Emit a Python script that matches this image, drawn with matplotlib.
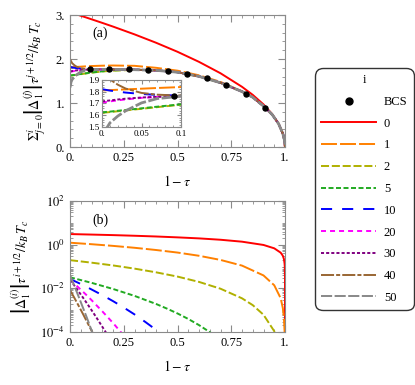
import numpy as np
import matplotlib
matplotlib.use("Agg")
import matplotlib.pyplot as plt
from matplotlib.lines import Line2D
from matplotlib.ticker import MultipleLocator, FixedLocator, FixedFormatter, LogLocator, NullFormatter

plt.rcParams['font.family'] = ['Liberation Serif', 'DejaVu Serif']
plt.rcParams['mathtext.fontset'] = 'stix'
plt.rcParams['lines.scale_dashes'] = False

# ---- data: panel (a), partial sums vs 1 - tau ----
x_top = [0, 0.005, 0.01, 0.02, 0.03, 0.05, 0.07, 0.1, 0.15, 0.2, 0.3, 0.4, 0.5,
         0.6, 0.7, 0.8, 0.85, 0.9, 0.94, 0.97, 0.99, 0.997, 1.0]
tail = [1.757, 1.742, 1.70, 1.605, 1.46, 1.26, 1.13, 0.93, 0.74, 0.53, 0.305, 0.167, 0]
sum_0 = [3.06, 3.052, 3.045, 3.029, 3.014, 2.983, 2.952, 2.903, 2.821, 2.737, 2.56, 2.37, 2.164,
         1.935, 1.676, 1.368, 1.185, 0.968, 0.75, 0.53, 0.306, 0.168, 0]
sum_1 = [1.812, 1.813, 1.814, 1.817, 1.82, 1.826, 1.832, 1.84, 1.848, 1.852, 1.845, 1.80, 1.735,
         1.63, 1.48, 1.265, 1.13, 0.935, 0.74, 0.53, 0.305, 0.167, 0]
sum_2 = [1.62, 1.624, 1.627, 1.634, 1.641, 1.655, 1.669, 1.69, 1.716, 1.735] + [1.752, 1.742] + tail[2:]
sum_5 = [1.624, 1.628, 1.631, 1.638, 1.645, 1.659, 1.673, 1.693, 1.72, 1.742] + tail
sum_10 = [1.822, 1.816, 1.81, 1.801, 1.793, 1.781, 1.773, 1.767, 1.765, 1.764] + tail
sum_20 = [1.708, 1.713, 1.718, 1.727, 1.735, 1.748, 1.756, 1.762, 1.764, 1.764] + tail
sum_30 = [1.718, 1.722, 1.726, 1.734, 1.741, 1.751, 1.757, 1.762, 1.764, 1.764] + tail
sum_40 = [2.0, 1.95, 1.905, 1.86, 1.827, 1.79, 1.775, 1.767, 1.765, 1.764] + tail
sum_50 = [1.35, 1.48, 1.535, 1.593, 1.638, 1.705, 1.742, 1.762, 1.764, 1.764] + tail

bcs_x = [0.091, 0.182, 0.273, 0.364, 0.455, 0.545, 0.636, 0.727, 0.818, 0.909]
bcs_y = [1.764, 1.764, 1.762, 1.755, 1.728, 1.66, 1.56, 1.42, 1.21, 0.89]

# ---- data: panel (b), single terms (log scale) ----
xb_0 = [0, 0.1, 0.2, 0.3, 0.4, 0.5, 0.6, 0.7, 0.8, 0.9, 0.95, 0.98, 0.99, 0.995, 0.998,
        0.999, 0.9999, 0.999999, 0.99999999, 0.9999999999]
yb_0 = [3.06, 2.90, 2.74, 2.56, 2.37, 2.16, 1.94, 1.68, 1.37, 0.97, 0.68, 0.43, 0.31, 0.22, 0.137,
        0.097, 0.031, 0.0031, 3.1e-4, 3.1e-5]
xb_1 = [0, 0.1, 0.2, 0.3, 0.4, 0.5, 0.6, 0.7, 0.8, 0.9, 0.95, 0.98, 0.99, 0.995, 0.998, 0.999]
yb_1 = [1.23, 1.05, 0.88, 0.72, 0.57, 0.435, 0.31, 0.20, 0.11, 0.039, 0.0138, 0.0035, 0.00123,
        0.00044, 0.00011, 0.000039]
xb_2 = [0, 0.1, 0.2, 0.3, 0.4, 0.5, 0.6, 0.7, 0.8, 0.85, 0.9, 0.95, 0.97]
yb_2 = [0.195, 0.150, 0.112, 0.080, 0.0542, 0.0345, 0.0197, 0.00961, 0.00349, 0.0017, 0.000617,
        0.000109, 0.0000303]
xb_5 = [0, 0.1, 0.2, 0.3, 0.4, 0.45, 0.5, 0.55, 0.6, 0.65, 0.7]
yb_5 = [0.032, 0.0179, 0.00937, 0.00451, 0.00193, 0.00119, 0.000707, 0.000396, 0.000207,
        0.000099, 0.000043]
xb_10 = [0, 0.05, 0.1, 0.15, 0.2, 0.25, 0.3, 0.35, 0.4, 0.45]
yb_10 = [0.027, 0.0158, 0.0089, 0.0049, 0.0026, 0.00132, 0.00064, 0.00029, 0.000126, 0.000051]
xb_20 = [0, 0.025, 0.05, 0.075, 0.1, 0.125, 0.15, 0.175, 0.2, 0.225, 0.25]
yb_20 = [0.025, 0.0149, 0.0087, 0.0051, 0.0029, 0.0016, 0.00089, 0.00048, 0.00026, 0.000134, 0.000069]
xb_30 = [0, 0.02, 0.04, 0.06, 0.08, 0.1, 0.12, 0.14, 0.16, 0.18]
yb_30 = [0.025, 0.0135, 0.0072, 0.0038, 0.00197, 0.00101, 0.00051, 0.00025, 0.000123, 0.000059]
xb_40 = [0, 0.02, 0.04, 0.06, 0.08, 0.1, 0.12]
yb_40 = [0.0083, 0.0037, 0.0016, 0.00068, 0.00028, 0.000116, 0.000047]
xb_50 = [0, 0.02, 0.04, 0.06, 0.08, 0.1, 0.12]
yb_50 = [0.04, 0.0132, 0.0042, 0.00132, 0.00041, 0.00012, 0.000035]

labels = ['0', '1', '2', '5', '10', '20', '30', '40', '50']
colors = ['#ff0000', '#ff8000', '#b0b000', '#22aa22', '#0000ff', '#ff00ff', '#800080', '#996633', '#888888']
styles = ['-', (0, (11.5, 2.2)), (0, (5.8, 2.0)), (0, (3.6, 1.8)), (0, (8, 7.2)),
          (0, (3.6, 2.9)), (0, (2.2, 1.5)), (0, (9.4, 1.5, 2.9, 1.5)), (0, (8, 1.8))]

top_sums = [sum_0, sum_1, sum_2, sum_5, sum_10, sum_20, sum_30, sum_40, sum_50]
bot_x = [xb_0, xb_1, xb_2, xb_5, xb_10, xb_20, xb_30, xb_40, xb_50]
bot_y = [yb_0, yb_1, yb_2, yb_5, yb_10, yb_20, yb_30, yb_40, yb_50]

frame_c = '#8a8a8a'
lw = 1.4


def style_axes(ax):
    for s in ax.spines.values():
        s.set_color(frame_c)
        s.set_linewidth(0.8)
    ax.tick_params(which='both', direction='in', top=True, right=True, color=frame_c, labelsize=9)
    ax.tick_params(which='major', length=5)
    ax.tick_params(which='minor', length=2.5)


fig = plt.figure(figsize=(4.15, 3.85), dpi=100)

# panel (a)
ax1 = fig.add_axes([70 / 415, 1 - 147 / 385, 215 / 415, 132 / 385])
for ys, c, ls in zip(top_sums, colors, styles):
    ax1.plot(x_top, ys, color=c, ls=ls, lw=2.0 if c == '#888888' else lw)
ax1.plot(bcs_x, bcs_y, 'o', color='black', ms=3.6, zorder=5)
ax1.set_xlim(0, 1)
ax1.set_ylim(0, 3)
ax1.xaxis.set_major_locator(FixedLocator([0, 0.25, 0.5, 0.75, 1.0]))
ax1.xaxis.set_major_formatter(FixedFormatter(['0.', '0.25', '0.5', '0.75', '1.']))
ax1.xaxis.set_minor_locator(MultipleLocator(0.05))
ax1.yaxis.set_major_locator(FixedLocator([0, 1, 2, 3]))
ax1.yaxis.set_major_formatter(FixedFormatter(['0.', '1.', '2.', '3.']))
ax1.yaxis.set_minor_locator(MultipleLocator(0.2))
style_axes(ax1)
ax1.set_xlabel(r'$1-\tau$', fontsize=10, labelpad=7)
ax1.set_ylabel(r'$\Sigma_{j=0}^{i}\left|\Delta_1^{(j)}\right|\tau^{j+1/2}/k_B\,T_c$', fontsize=10)
ax1.yaxis.set_label_coords(-0.10, 0.5)
ax1.text(0.14, 0.865, '(a)', transform=ax1.transAxes, fontsize=10, ha='center', va='center')

# inset
axi = fig.add_axes([102 / 415, 1 - 127 / 385, 79 / 415, 47 / 385])
for ys, c, ls in zip(top_sums, colors, styles):
    axi.plot(x_top, ys, color=c, ls=ls, lw=2.0 if c == '#888888' else lw)
axi.plot(bcs_x, bcs_y, 'o', color='black', ms=3.6, zorder=5)
axi.set_xlim(0, 0.1)
axi.set_ylim(1.5, 1.9)
axi.xaxis.set_major_locator(FixedLocator([0, 0.05, 0.1]))
axi.xaxis.set_major_formatter(FixedFormatter(['0.', '0.05', '0.1']))
axi.xaxis.set_minor_locator(MultipleLocator(0.01))
axi.yaxis.set_major_locator(FixedLocator([1.5, 1.6, 1.7, 1.8, 1.9]))
axi.yaxis.set_major_formatter(FixedFormatter(['1.5', '1.6', '1.7', '1.8', '1.9']))
axi.yaxis.set_minor_locator(MultipleLocator(0.02))
style_axes(axi)
axi.tick_params(labelsize=6.5, pad=2)
axi.tick_params(which='major', length=3)
axi.tick_params(which='minor', length=1.5)

# panel (b)
ax2 = fig.add_axes([70 / 415, 1 - 332 / 385, 215 / 415, 131 / 385])
for xs, ys, c, ls in zip(bot_x, bot_y, colors, styles):
    ax2.plot(xs, ys, color=c, ls=ls, lw=lw)
ax2.set_yscale('log')
ax2.set_xlim(0, 1)
ax2.set_ylim(1e-4, 1e2)
ax2.xaxis.set_major_locator(FixedLocator([0, 0.25, 0.5, 0.75, 1.0]))
ax2.xaxis.set_major_formatter(FixedFormatter(['0.', '0.25', '0.5', '0.75', '1.']))
ax2.xaxis.set_minor_locator(MultipleLocator(0.05))
ax2.yaxis.set_major_locator(FixedLocator([1e-4, 1e-2, 1e0, 1e2]))
ax2.yaxis.set_major_formatter(FixedFormatter([r'$10^{-4}$', r'$10^{-2}$', r'$10^{0}$', r'$10^{2}$']))
ax2.yaxis.set_minor_locator(LogLocator(base=10, subs=np.arange(1, 10), numticks=30))
ax2.yaxis.set_minor_formatter(NullFormatter())
style_axes(ax2)
ax2.set_xlabel(r'$1-\tau$', fontsize=10, labelpad=7)
ax2.set_ylabel(r'$\left|\Delta_1^{(i)}\right|\tau^{i+1/2}/k_B\,T_c$', fontsize=10)
ax2.yaxis.set_label_coords(-0.17, 0.5)
ax2.text(0.14, 0.855, '(b)', transform=ax2.transAxes, fontsize=10, ha='center', va='center')

# legend
handles = [Line2D([], [], ls='none', marker='o', color='black', ms=5)]
for c, ls in zip(colors, styles):
    handles.append(Line2D([], [], color=c, ls=ls, lw=lw))
leg = fig.legend(handles, ['BCS'] + labels, title='i', loc='upper left',
                 bbox_to_anchor=(315 / 415, 1 - 68 / 385), borderaxespad=0, fontsize=9,
                 title_fontsize=9, handlelength=4.4, handletextpad=0.6, labelspacing=0.78,
                 borderpad=0.5, fancybox=True, frameon=True)
leg.get_frame().set_edgecolor('black')
leg.get_frame().set_linewidth(1.0)
leg.get_frame().set_boxstyle('round', pad=0, rounding_size=0.6)

fig.savefig('out.png', dpi=100)
